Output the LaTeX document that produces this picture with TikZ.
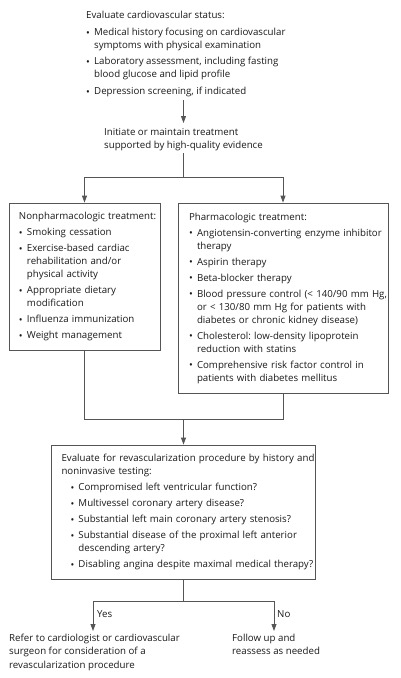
\documentclass[tikz,border=0pt]{standalone}
\usepackage{fontspec}
\setmainfont{Open Sans}
\usetikzlibrary{arrows.meta}
\frenchspacing
\definecolor{lncol}{HTML}{555555}
\definecolor{txcol}{HTML}{1A1A1A}
\newlength\bw \setlength\bw{8pt}
\newcommand\bi[1]{\makebox[\bw][l]{\raisebox{-0.9pt}{\fontsize{10}{10}\selectfont •}}\mbox{#1}}
\newcommand\ci[1]{\hspace*{\bw}\mbox{#1}}
\begin{document}
\begin{tikzpicture}[x=1pt,y=-1pt,
  every node/.style={font=\fontsize{9.7}{13}\selectfont, text=txcol},
  txt/.style={inner sep=0pt, align=left, anchor=north west},
  box/.style={draw=lncol, line width=0.8pt, inner xsep=10pt, inner ysep=0pt, align=left},
  link/.style={draw=lncol, line width=0.8pt},
  arr/.style={link, -{Triangle[length=7pt,width=5pt]}}]
\useasboundingbox (0,0) rectangle (400,678);

\node[txt] (top) at (86,10.6) {\mbox{Evaluate cardiovascular status:}\\[4pt]
\bi{Medical history focusing on cardiovascular}\\
\ci{symptoms with physical examination}\\[3.5pt]
\bi{Laboratory assessment, including fasting}\\
\ci{blood glucose and lipid profile}\\[3.5pt]
\bi{Depression screening, if indicated}};

\node[txt] (init) at (104,128.6) {Initiate or maintain treatment\\supported by high-quality evidence};

\node[box, minimum width=151pt, minimum height=147pt, text width=131pt] (left) at (84.5,276.5) {%
\mbox{Nonpharmacologic treatment:}\\[3pt]
\bi{Smoking cessation}\\[3pt]
\bi{Exercise-based cardiac}\\
\ci{rehabilitation and/or}\\
\ci{physical activity}\\[3pt]
\bi{Appropriate dietary}\\
\ci{modification}\\[3pt]
\bi{Influenza immunization}\\[3pt]
\bi{Weight management}};

\node[box, inner xsep=11pt, minimum width=210pt, minimum height=190pt, text width=188pt] (right) at (283,298) {%
\mbox{Pharmacologic treatment:}\\[3pt]
\bi{Angiotensin-converting enzyme inhibitor}\\
\ci{therapy}\\[3pt]
\bi{Aspirin therapy}\\[3pt]
\bi{Beta-blocker therapy}\\[3pt]
\bi{Blood pressure control (< 140/90 mm Hg,}\\
\ci{or < 130/80 mm Hg for patients with}\\
\ci{diabetes or chronic kidney disease)}\\[3pt]
\bi{Cholesterol: low-density lipoprotein}\\
\ci{reduction with statins}\\[3pt]
\bi{Comprehensive risk factor control in}\\
\ci{patients with diabetes mellitus}};

\node[box, minimum width=264pt, minimum height=134pt, text width=244pt] (bot) at (183.5,512) {%
\mbox{Evaluate for revascularization procedure by history and}\\
\mbox{noninvasive testing:}\\[3pt]
\hspace*{9pt}\bi{Compromised left ventricular function?}\\[3pt]
\hspace*{9pt}\bi{Multivessel coronary artery disease?}\\[3pt]
\hspace*{9pt}\bi{Substantial left main coronary artery stenosis?}\\[3pt]
\hspace*{9pt}\bi{Substantial disease of the proximal left anterior}\\
\hspace*{9pt}\ci{descending artery?}\\[3pt]
\hspace*{9pt}\bi{Disabling angina despite maximal medical therapy?}};

\node[txt, font=\fontsize{9.7}{13.5}\selectfont] (refer) at (9,633.6) {Refer to cardiologist or cardiovascular\\surgeon for consideration of a\\revascularization procedure};
\node[txt, font=\fontsize{9.7}{13.5}\selectfont] (follow) at (232,633.6) {Follow up and\\reassess as needed};

\node[inner sep=0pt, anchor=base west] (yes) at (97,617) {Yes};
\node[inner sep=0pt, anchor=base west] (no) at (277,617) {No};

\coordinate (cx) at (183.5,0);
\draw[arr, shorten <=3.6pt, shorten >=5.6pt] (top.south -| cx) -- (init.north -| cx);
\coordinate (j1) at (183.5,177);
\draw[link, shorten <=2pt] (init.south -| cx) -- (j1);
\draw[arr] (j1) -| (left.north);
\draw[arr] (j1) -| (right.north);
\coordinate (j2) at (183.5,419);
\draw[link] (left.south) |- (j2);
\draw[link] (right.south) |- (j2);
\draw[arr] (j2) -- (bot.north);
\coordinate (j3) at (183.5,601);
\draw[link] (bot.south) -- (j3);
\coordinate (ya) at (93,631);
\coordinate (na) at (274,631);
\draw[arr] (j3) -| (ya);
\draw[arr] (j3) -| (na);
\end{tikzpicture}
\end{document}
